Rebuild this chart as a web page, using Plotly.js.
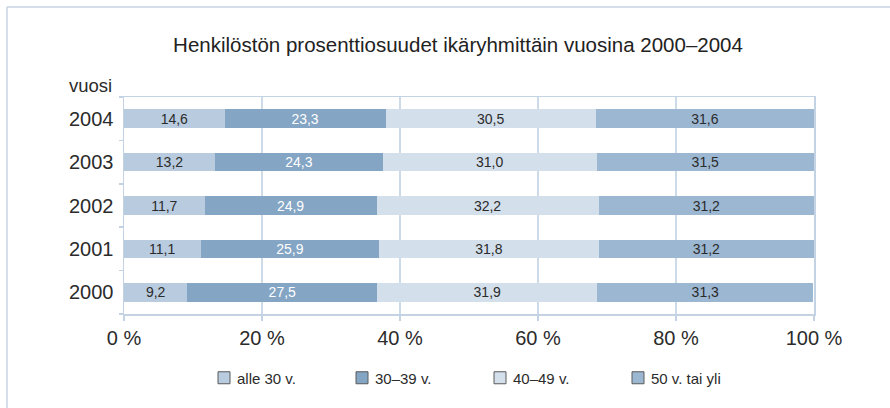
<!DOCTYPE html>
<html>
<head>
<meta charset="utf-8">
<script src="https://cdn.plot.ly/plotly-3.0.1.min.js"></script>
<style>
html,body{margin:0;padding:0;background:#fff;}
#chart{width:890px;height:408px;}
</style>
</head>
<body>
<div id="chart"></div>
<script>
// ---- data ----
const years = ['2000', '2001', '2002', '2003', '2004'];
const seriesNames = ['alle 30 v.', '30–39 v.', '40–49 v.', '50 v. tai yli'];
const alle30 = [9.2, 11.1, 11.7, 13.2, 14.6];
const age30to39 = [27.5, 25.9, 24.9, 24.3, 23.3];
const age40to49 = [31.9, 31.8, 32.2, 31.0, 30.5];
const age50plus = [31.3, 31.2, 31.2, 31.5, 31.6];
const xTickValues = [0, 20, 40, 60, 80, 100];
const xTickLabels = ['0 %', '20 %', '40 %', '60 %', '80 %', '100 %'];

const FONT = '"Liberation Sans", Arial, sans-serif';
const colors = ['#b9cbde', '#84a5c4', '#d3dfea', '#9cb7d1'];
const textColors = ['#2b2b2b', '#ffffff', '#2b2b2b', '#2b2b2b'];
const seriesValues = [alle30, age30to39, age40to49, age50plus];

const traces = seriesValues.map((vals, i) => ({
  type: 'bar',
  orientation: 'h',
  name: seriesNames[i],
  y: years,
  x: vals,
  width: 0.43,
  marker: {color: colors[i], line: {width: 0}},
  texttemplate: '%{x:.1f}',
  textposition: 'inside',
  insidetextanchor: 'middle',
  textangle: 0,
  constraintext: 'none',
  insidetextfont: {family: FONT, size: 14, color: textColors[i]},
  hoverinfo: 'skip'
}));

const gridC = '#cddbe8';
const lineC = '#c3d3e3';

const layout = {
  width: 890,
  height: 408,
  margin: {l: 124, r: 76, t: 97, b: 94},
  paper_bgcolor: '#ffffff',
  plot_bgcolor: '#ffffff',
  barmode: 'stack',
  separators: ', ',
  font: {family: FONT, color: '#2b2b2b'},
  showlegend: true,
  title: {
    text: 'Henkilöstön prosenttiosuudet ikäryhmittäin vuosina 2000–2004',
    font: {family: FONT, size: 20.5, color: '#222'},
    x: (458 - 124) / 690, xref: 'paper', xanchor: 'center',
    y: 1 - 45 / 408, yref: 'container', yanchor: 'middle'
  },
  xaxis: {
    range: [0, 100],
    tickmode: 'array',
    tickvals: xTickValues,
    ticktext: xTickLabels,
    tickfont: {family: FONT, size: 20, color: '#2b2b2b'},
    showgrid: true, gridcolor: gridC, gridwidth: 1.5,
    zeroline: false,
    showline: true, linecolor: lineC, linewidth: 1.5, mirror: true,
    ticks: 'outside', ticklen: 5, tickcolor: lineC, tickwidth: 1.5,
    fixedrange: true
  },
  yaxis: {
    type: 'category',
    categoryorder: 'array',
    categoryarray: years,
    tickfont: {family: FONT, size: 20, color: '#2b2b2b'},
    showgrid: false,
    showline: true, linecolor: lineC, linewidth: 1.5, mirror: true,
    ticks: 'outside', tickson: 'boundaries', ticklen: 4, tickcolor: lineC, tickwidth: 1.5,
    ticklabelstandoff: 5,
    fixedrange: true
  },
  legend: {
    orientation: 'h',
    x: (204 - 124) / 690, xanchor: 'left', xref: 'paper',
    y: (314 - 378) / 217, yanchor: 'middle', yref: 'paper',
    font: {family: FONT, size: 15, color: '#2b2b2b'},
    itemwidth: 30,
    entrywidth: 93,
    traceorder: 'normal',
    itemclick: false, itemdoubleclick: false
  },
  annotations: [{
    text: 'vuosi',
    xref: 'paper', yref: 'paper',
    x: 0, y: 1, xanchor: 'right', yanchor: 'middle',
    xshift: -10, yshift: 12,
    showarrow: false,
    font: {family: FONT, size: 18.5, color: '#2b2b2b'}
  }],
  shapes: [
    {type: 'line', xref: 'paper', yref: 'paper',
     x0: (7 - 124) / 690, x1: (890 - 124) / 690, y0: (314 - 7) / 217, y1: (314 - 7) / 217,
     line: {color: '#c8d5e2', width: 1.5}},
    {type: 'line', xref: 'paper', yref: 'paper',
     x0: (7 - 124) / 690, x1: (7 - 124) / 690, y0: (314 - 7) / 217, y1: (314 - 410) / 217,
     line: {color: '#c8d5e2', width: 1.5}}
  ]
};

Plotly.newPlot('chart', traces, layout, {displayModeBar: false, staticPlot: true}).then(gd => {
  // legend styling: outlined swatches, text close to swatch
  gd.querySelectorAll('.legend .legendpoints path').forEach(p => {
    p.style.stroke = '#5a5a5a';
    p.style.strokeWidth = '1px';
  });
  gd.querySelectorAll('.legend .legendtext').forEach(t => {
    const x = parseFloat(t.getAttribute('x')) || 0;
    t.setAttribute('x', x - 7);
  });
});
</script>
</body>
</html>
